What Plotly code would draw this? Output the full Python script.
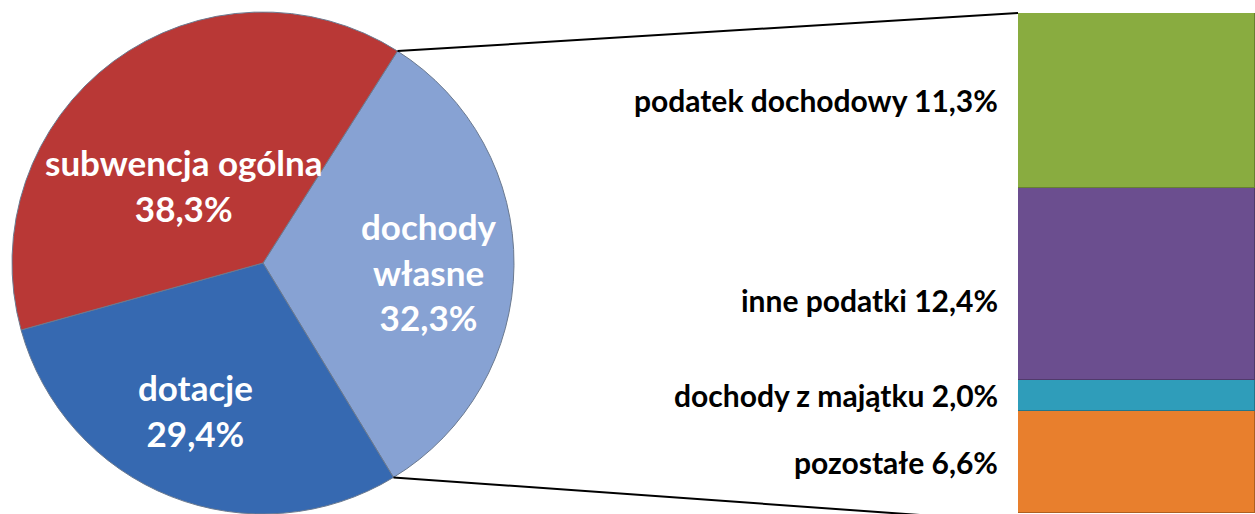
import math
import plotly.graph_objects as go

# ---- data ----
pie_labels = ["dochody własne", "dotacje", "subwencja ogólna"]
pie_text = ["dochody<br>własne<br>32,3%", "dotacje<br>29,4%", "subwencja ogólna<br>38,3%"]
pie_values = [32.3, 29.4, 38.3]
pie_colors = ["#87A2D3", "#3669B1", "#B93836"]

bar_labels = ["pozostałe", "dochody z majątku", "inne podatki", "podatek dochodowy"]
bar_values = [6.6, 2.0, 12.4, 11.3]
bar_text = ["pozostałe 6,6%", "dochody z majątku 2,0%", "inne podatki 12,4%", "podatek dochodowy 11,3%"]
bar_colors = ["#E87F2D", "#2F9DBA", "#6B4E8F", "#89AC40"]

W, H = 1255, 514
FONT = "Lato"

# ---- geometry (paper fractions) ----
pie_dom_x = [12 / W, 514 / W]
pie_dom_y = [0.0, 502 / H]
bar_dom_x = [1018 / W, 1.0]
bar_dom_y = [1 / H, 501 / H]
rotation = 32.4
label_r = [0.66, 0.63, 0.44]
label_shift = [(0, -7), (-9, 0), (-14, -11)]

fig = go.Figure()

fig.add_trace(go.Pie(
    labels=pie_labels, values=pie_values, sort=False, direction="clockwise",
    rotation=rotation, domain=dict(x=pie_dom_x, y=pie_dom_y),
    marker=dict(colors=pie_colors, line=dict(color="#6b7a90", width=1)),
    textinfo="none", hoverinfo="label+percent", showlegend=False,
))

total_bar = sum(bar_values)
for lab, v, c in zip(bar_labels, bar_values, bar_colors):
    fig.add_trace(go.Bar(
        x=[0], y=[v], name=lab, marker=dict(color=c, line=dict(color="rgba(0,0,0,0.25)", width=1)),
        width=1, xaxis="x", yaxis="y", showlegend=False, hoverinfo="name+y",
    ))

# pie geometry in pixels
cx = (pie_dom_x[0] + pie_dom_x[1]) / 2 * W
cy = (1 - (pie_dom_y[0] + pie_dom_y[1]) / 2) * H
R = min((pie_dom_x[1] - pie_dom_x[0]) * W, (pie_dom_y[1] - pie_dom_y[0]) * H) / 2
tot = sum(pie_values)

def pt(angle_deg, r):
    a = math.radians(angle_deg)
    return cx + r * math.sin(a), cy - r * math.cos(a)

annotations = []
start = rotation
for txt, v, rf, sh in zip(pie_text, pie_values, label_r, label_shift):
    span = v / tot * 360
    mid = start + span / 2
    x, y = pt(mid, R * rf)
    annotations.append(dict(x=x / W, y=1 - y / H, xref="paper", yref="paper", text=txt,
                            showarrow=False, xshift=sh[0], yshift=sh[1],
                            font=dict(family=FONT, size=35, color="white", weight="bold"),
                            align="center", xanchor="center", yanchor="middle"))
    start += span

# connector lines from the edges of the first slice to bar corners
a1 = rotation
a2 = rotation + pie_values[0] / tot * 360
p1 = pt(a1, R)
p2 = pt(a2, R)
bar_left = bar_dom_x[0]
bar_top = bar_dom_y[1]
bar_bot = bar_dom_y[0]
fig.add_shape(type="line", xref="paper", yref="paper", x0=p1[0] / W, y0=1 - p1[1] / H,
              x1=bar_left, y1=bar_top, line=dict(color="black", width=2))
fig.add_shape(type="line", xref="paper", yref="paper", x0=p2[0] / W, y0=1 - p2[1] / H,
              x1=bar_left, y1=bar_bot - 9 / H, line=dict(color="black", width=2))

# bar labels
yshift = [0, 0, -16, 0]
cum = 0
for txt, v, ys in zip(bar_text, bar_values, yshift):
    mid = cum + v / 2
    annotations.append(dict(x=1000 / W, y=mid, xref="paper", yref="y", text=txt, showarrow=False,
                            xanchor="right", yanchor="middle", yshift=ys,
                            font=dict(family=FONT, size=30, color="black", weight="bold")))
    cum += v

fig.update_layout(
    width=W, height=H, margin=dict(l=0, r=0, t=0, b=0),
    paper_bgcolor="white", plot_bgcolor="white",
    barmode="stack", bargap=0,
    xaxis=dict(domain=bar_dom_x, range=[-0.5, 0.5], visible=False, fixedrange=True),
    yaxis=dict(domain=bar_dom_y, range=[0, total_bar], visible=False, fixedrange=True),
    annotations=annotations,
)

fig.write_html("out.html", config={"displayModeBar": False},
               post_script="document.body.style.margin='0';")
